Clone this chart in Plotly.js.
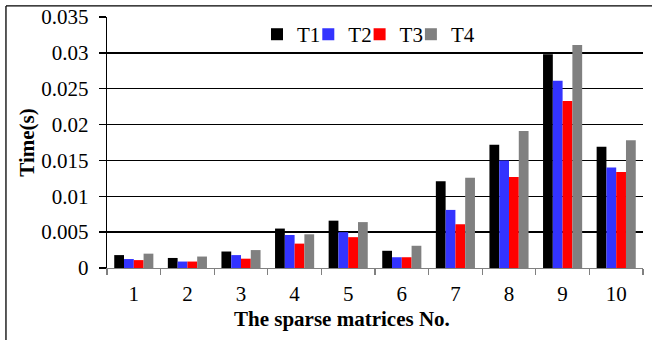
<!DOCTYPE html>
<html>
<head>
<meta charset="utf-8">
<script src="https://cdn.plot.ly/plotly-3.0.1.min.js"></script>
<style>html,body{margin:0;padding:0;background:#fff;}#chart{width:652px;height:340px;}</style>
</head>
<body>
<div id="chart"></div>
<script>
const categories = ['1','2','3','4','5','6','7','8','9','10'];
const seriesNames = ['T1','T2','T3','T4'];
const T1 = [0.0018,0.0014,0.0023,0.0055,0.0066,0.0024,0.0121,0.0172,0.0298,0.0169];
const T2 = [0.00125,0.0009,0.0018,0.0046,0.0050,0.0015,0.0081,0.0150,0.0261,0.0140];
const T3 = [0.0011,0.0009,0.0013,0.0034,0.0043,0.0015,0.0061,0.0127,0.0233,0.0134];
const T4 = [0.0020,0.0016,0.0025,0.0047,0.0064,0.0031,0.0126,0.0191,0.0311,0.0178];
const yTickVals = [0,0.005,0.01,0.015,0.02,0.025,0.03,0.035];
const yTickText = ['0','0.005','0.01','0.015','0.02','0.025','0.03','0.035'];
const colors = ['#000000','#3333ff','#ff0000','#808080'];
const values = [T1,T2,T3,T4];

const FAM = 'Liberation Serif';
function f(size){ return {family:FAM, size:size, color:'#000'}; }
const legendIds = ['legend','legend2','legend3','legend4'];
const traces = values.map((v,i)=>({
  type:'bar', name:seriesNames[i], x:categories, y:v, legend:legendIds[i],
  marker:{color:colors[i], line:{width:0}}
}));

const plotL = 107, plotW = 536;
const legStartPx = 257, legStepPx = 51.3;

const layout = {
  width:652, height:340,
  margin:{l:plotL, r:9, t:17, b:72},
  paper_bgcolor:'#fff', plot_bgcolor:'#fff',
  font:f(21),
  barmode:'group', bargap:0.27, bargroupgap:0,
  showlegend:true,
  xaxis:{type:'category', showgrid:false, showline:true, linecolor:'#808080', linewidth:1.3,
    ticks:'outside', tickson:'boundaries', ticklen:6, tickcolor:'#808080', tickwidth:1.3,
    ticklabelstandoff:6, tickfont:f(21), zeroline:false},
  yaxis:{range:[0,0.035], tickvals:yTickVals, ticktext:yTickText,
    showgrid:true, gridcolor:'#000', gridwidth:1.3,
    showline:true, linecolor:'#000', linewidth:1.3,
    ticks:'outside', ticklen:7, tickcolor:'#000', tickwidth:1.3,
    ticklabelstandoff:6, tickfont:f(21), zeroline:false,
    title:{text:'<b>Time(s)</b>', font:f(21), standoff:1}},
  annotations:[{xref:'paper', yref:'paper', x:0.438, y:-0.205, xanchor:'center', yanchor:'middle',
    text:'<b>The sparse matrices No.</b>', showarrow:false, font:f(21)}],
  shapes:[
    {type:'line', xref:'paper', yref:'paper', x0:-0.1885, x1:-0.1885, y0:-0.30, y1:1.044, line:{color:'#000', width:1.3}},
    {type:'line', xref:'paper', yref:'paper', x0:-0.1885, x1:1.02, y0:1.044, y1:1.044, line:{color:'#000', width:1.3}}
  ]
};
legendIds.forEach((id,i)=>{
  layout[id] = {orientation:'h', x:(legStartPx + i*legStepPx - plotL)/plotW, xanchor:'left',
    y:0.93, yanchor:'middle', font:f(21), bgcolor:'rgba(0,0,0,0)', itemwidth:30};
});
Plotly.newPlot('chart', traces, layout, {displayModeBar:false, staticPlot:true});
</script>
</body>
</html>
